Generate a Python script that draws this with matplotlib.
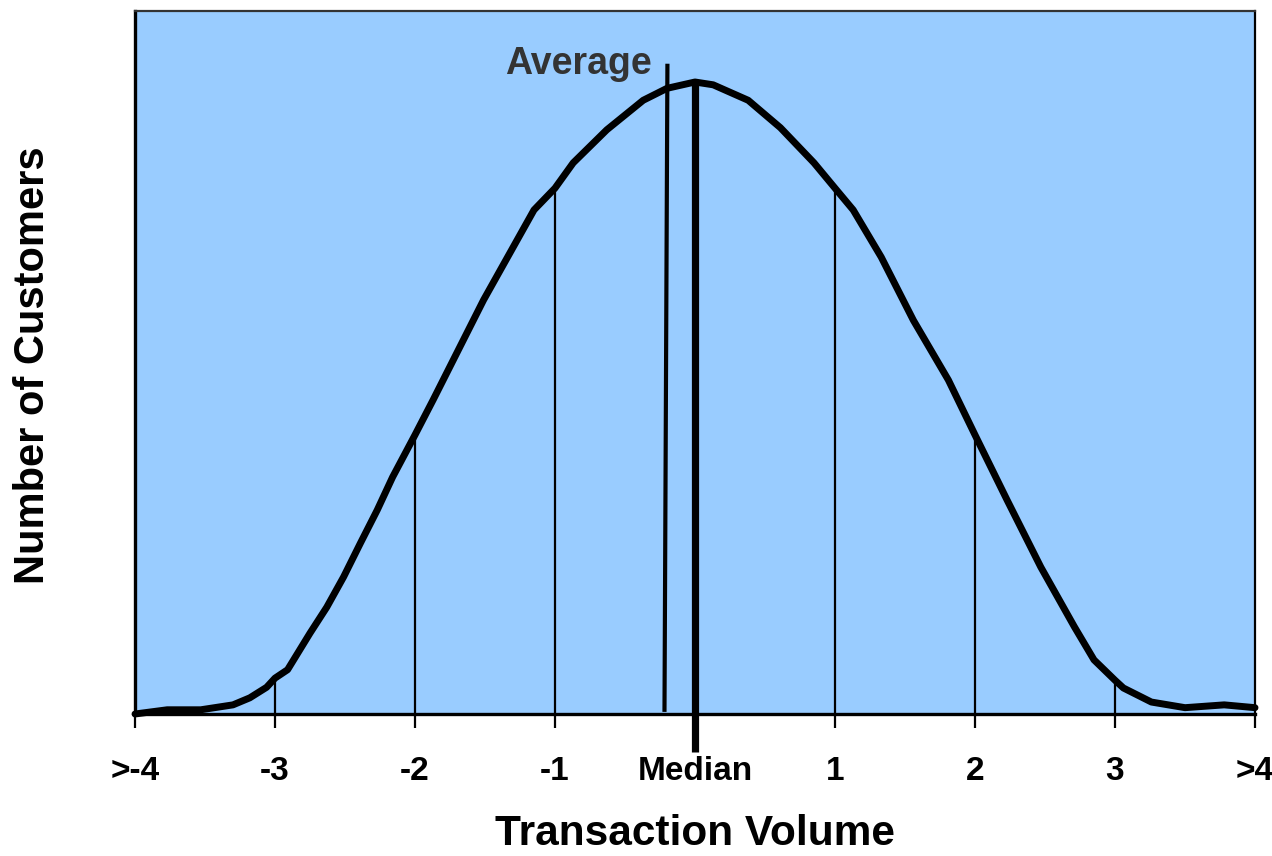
import matplotlib
matplotlib.use("Agg")
import matplotlib.pyplot as plt

plt.rcParams['font.family'] = ['Liberation Sans', 'DejaVu Sans']

# Curve data (transaction volume in std units vs. number of customers, relative scale 0-100)
curve_x = [-4.0, -3.77, -3.53, -3.30, -3.18, -3.06, -3.0, -2.91, -2.75, -2.63, -2.51,
           -2.39, -2.27, -2.16, -2.0, -1.87, -1.51, -1.15, -1.0, -0.87, -0.63, -0.37,
           -0.20, 0.0, 0.13, 0.38, 0.61, 0.85, 1.0, 1.13, 1.33, 1.56, 1.81, 2.0,
           2.23, 2.47, 2.71, 2.85, 3.0, 3.06, 3.26, 3.50, 3.78, 4.0]
curve_y = [0.0, 0.6, 0.6, 1.3, 2.3, 3.8, 5.1, 6.3, 11.5, 15.2, 19.5,
           24.3, 29.0, 33.7, 39.7, 44.7, 58.9, 71.7, 74.8, 78.4, 83.1, 87.3,
           89.0, 89.9, 89.5, 87.3, 83.4, 78.4, 74.8, 71.7, 65.0, 56.0, 47.5, 39.7,
           30.4, 20.9, 12.4, 7.7, 4.8, 3.7, 1.7, 0.9, 1.3, 0.9]

# Drop lines at integer positions
drop_x = [-3, -2, -1, 1, 2, 3]
drop_y = [5.1, 39.7, 74.8, 74.8, 39.7, 4.8]

# Median and average markers
median_x = 0.0
median_y = [-5.4, 89.9]
average_x = [-0.218, -0.197]
average_y = [0.3, 92.5]

tick_pos = [-4, -3, -2, -1, 0, 1, 2, 3, 4]
tick_labels = [">-4", "-3", "-2", "-1", "Median", "1", "2", "3", ">4"]

W, H = 1272, 856
fig = plt.figure(figsize=(W / 100, H / 100), dpi=100)
ax = fig.add_axes([135 / W, 1 - 714 / H, (1255 - 135) / W, (714 - 11) / H])
ax.set_facecolor('#99CCFF')
ax.set_xlim(-4, 4)
ax.set_ylim(0, 100)

for xv, yv in zip(drop_x, drop_y):
    ax.plot([xv, xv], [0, yv], color='black', lw=1.6, zorder=2)

ax.plot(curve_x, curve_y, color='black', lw=5, solid_joinstyle='round',
        solid_capstyle='round', zorder=3, clip_on=False)

ax.plot([median_x, median_x], median_y, color='black', lw=5.2, zorder=4,
        clip_on=False, solid_capstyle='butt')
ax.plot(average_x, average_y, color='black', lw=3, zorder=4, clip_on=False,
        solid_capstyle='butt')

ax.text(-0.31, 92.4, "Average", ha='right', va='center', fontsize=27,
        fontweight='bold', color='#333333')

ax.set_xticks(tick_pos)
ax.set_xticklabels(tick_labels, fontsize=24, fontweight='bold')
ax.tick_params(axis='x', direction='out', length=10, width=1.6, pad=20, color='black')
ax.set_yticks([])

for s in ['left', 'bottom']:
    ax.spines[s].set_linewidth(2.4)
    ax.spines[s].set_color('black')
ax.spines['top'].set_linewidth(1.6)
ax.spines['top'].set_color('#333333')
ax.spines['right'].set_linewidth(1.6)
ax.spines['right'].set_color('black')

fig.text(695 / W, 1 - 834 / H, "Transaction Volume", ha='center', va='center',
         fontsize=30.5, fontweight='bold')
fig.text(33 / W, 1 - 365 / H, "Number of Customers", ha='center', va='center',
         rotation=90, fontsize=30, fontweight='bold')

fig.savefig("out.png", dpi=100)
